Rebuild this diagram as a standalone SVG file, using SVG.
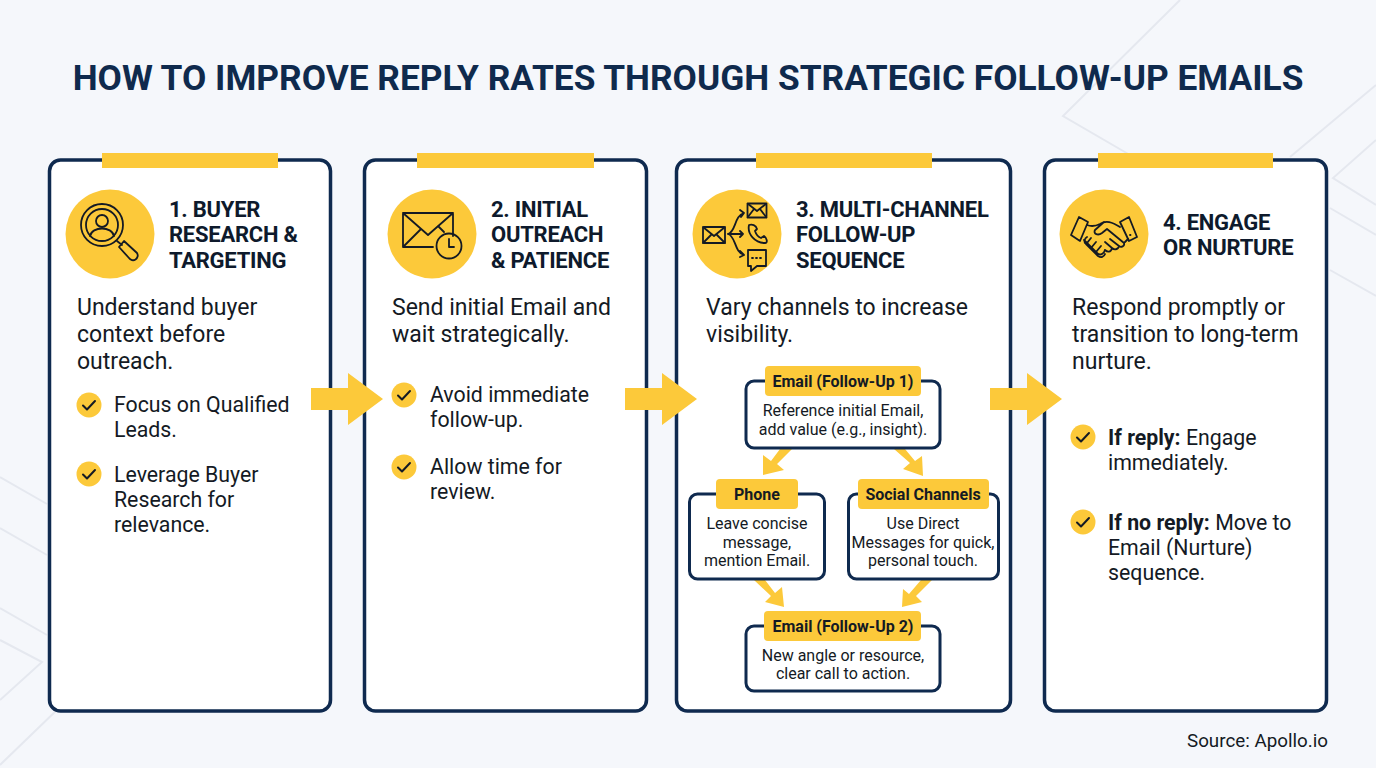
<svg xmlns="http://www.w3.org/2000/svg" width="1376" height="768" viewBox="0 0 1376 768">
<defs>
<style>
text{font-family:"Roboto","Liberation Sans",sans-serif;fill:#141a24}
.t{font-family:"Roboto","Liberation Sans",sans-serif;font-size:35.3px;font-weight:700;fill:#0f2a4d;text-anchor:middle}
.h{font-size:22px;font-weight:700;fill:#0e1a2c;letter-spacing:-.25px}
.b{font-size:23px}
.p{font-size:21.3px}
.c{font-size:16px;text-anchor:middle}
.l{font-size:16px;font-weight:700;text-anchor:middle}
.card{fill:#fff;stroke:#0f2a4f;stroke-width:3.5}
.sub{fill:#fff;stroke:#0f2a4f;stroke-width:3}
.y{fill:#fcc93a}
.i{fill:none;stroke:#141a24;stroke-width:1.8;stroke-linecap:round;stroke-linejoin:round}
.bg{fill:none;stroke:#e5e8ef;stroke-width:2}
</style>
<g id="chk"><circle r="12.5" class="y"/><path d="M-6 0.5L-2 4.5L6 -4" fill="none" stroke="#141a24" stroke-width="2" stroke-linecap="round" stroke-linejoin="round"/></g>
<path id="arr" d="M0 -11H37V-26L72 0L37 26V11H0Z" class="y"/>
</defs>
<rect width="1376" height="768" fill="#f5f7fb"/>
<g id="background"><path class="bg" d="M1180 0L1063 116L1130 155M1376 85L1290 157M1376 140L1333 178L1376 205M1330 208L1376 235M1330 270L1376 296M0 477L47 504M0 528L47 555M0 608L47 635M0 640L42 662L0 700M60 707L0 765"/></g>
<text class="t" x="688" y="90">HOW TO IMPROVE REPLY RATES THROUGH STRATEGIC FOLLOW-UP EMAILS</text>

<g id="card1">
<rect class="card" x="49.500" y="160" width="281" height="551" rx="11"/>
<rect class="y" x="102" y="153" width="176" height="15"/>
<circle class="y" cx="110" cy="234" r="44.500"/>
<g class="i"><circle cx="102" cy="225" r="21"/><circle cx="102" cy="225" r="16"/><circle cx="102" cy="221" r="6"/><path d="M90 236C92 226 112 226 114 236"/><path d="M117 241L122 245M119 247L129 258A4 4 0 0 0 137 253L124 241Z"/></g>
<text class="h"><tspan x="169" y="217">1. BUYER</tspan><tspan x="169" y="242">RESEARCH &amp;</tspan><tspan x="169" y="268">TARGETING</tspan></text>
<text class="b"><tspan x="77" y="315">Understand buyer</tspan><tspan x="77" y="342">context before</tspan><tspan x="77" y="369">outreach.</tspan></text>
<use href="#chk" x="89" y="405"/>
<text class="p"><tspan x="114" y="412">Focus on Qualified</tspan><tspan x="114" y="437">Leads.</tspan></text>
<use href="#chk" x="89" y="474"/>
<text class="p"><tspan x="114" y="482">Leverage Buyer</tspan><tspan x="114" y="507">Research for</tspan><tspan x="114" y="532">relevance.</tspan></text>
</g>

<g id="card2">
<rect class="card" x="364.500" y="160" width="282" height="551" rx="11"/>
<rect class="y" x="417" y="153" width="177" height="15"/>
<circle class="y" cx="432" cy="234" r="44.500"/>
<g class="i"><path d="M433 247H403V213H453V236M403 213L428 235L453 213M403 247L421 229M438 226L444 232"/><circle cx="449" cy="246" r="12.500"/><path d="M449 239V247H454"/></g>
<text class="h"><tspan x="491" y="217">2. INITIAL</tspan><tspan x="491" y="242">OUTREACH</tspan><tspan x="491" y="268">&amp; PATIENCE</tspan></text>
<text class="b"><tspan x="392" y="315">Send initial Email and</tspan><tspan x="392" y="342">wait strategically.</tspan></text>
<use href="#chk" x="404" y="395"/>
<text class="p"><tspan x="430" y="402">Avoid immediate</tspan><tspan x="430" y="427">follow-up.</tspan></text>
<use href="#chk" x="404" y="467"/>
<text class="p"><tspan x="430" y="474">Allow time for</tspan><tspan x="430" y="499">review.</tspan></text>
</g>

<g id="card3">
<rect class="card" x="676.500" y="160" width="334" height="551" rx="11"/>
<rect class="y" x="756" y="153" width="176" height="15"/>
<circle class="y" cx="737" cy="234" r="44.500"/>
<g class="i"><rect x="703" y="227" width="22" height="16" rx="1"/><path d="M703 227L714 236L725 227M703 243L711 235M725 243L717 235"/><rect x="747.500" y="203.500" width="19" height="14" rx="1"/><path d="M747.500 203.500L757 211L766.500 203.500M747.500 217.500L754 209M766.500 217.500L760 209"/><path d="M728 234H743M728 234C736 232 734 216 744 213M728 234C736 236 734 252 744 255M740 210L744 213L741 217M740 231L743 234L740 237M740 251L744 255L740 257"/><path d="M749 225C747 234 755 243 765 243C768 243 767 238 764 236L761 238C758 237 756 234 755 231L757 229C756 225 752 224 749 225Z"/><path d="M748 250H766V266H757L751 271V266H748Z"/><path d="M752 258H762" stroke-dasharray="1 3"/></g>
<text class="h"><tspan x="796" y="217">3. MULTI-CHANNEL</tspan><tspan x="796" y="242">FOLLOW-UP</tspan><tspan x="796" y="268">SEQUENCE</tspan></text>
<text class="b"><tspan x="706" y="315">Vary channels to increase</tspan><tspan x="706" y="342">visibility.</tspan></text>
</g>

<g id="card4">
<rect class="card" x="1044.500" y="160" width="282" height="551" rx="11"/>
<rect class="y" x="1098" y="153" width="175" height="15"/>
<circle class="y" cx="1104" cy="234" r="44.500"/>
<g class="i"><path d="M1079 217L1088 222L1080 241L1071 235ZM1120 222L1129 217L1137 237L1129 241Z"/><path d="M1130 235h.5"/><path d="M1087 225C1092 227 1096 226 1100 224C1106 220 1112 222 1120 227M1104 222L1095 230C1093 234 1098 236 1102 233L1107 229L1124 243C1125 246 1121 248 1119 246L1110 239M1119 246C1118 250 1114 250 1112 248L1105 242M1112 248C1111 253 1107 252 1105 250M1105 250C1104 254 1100 256 1097 253M1125 242L1128 239M1084 240L1098 254M1087 237C1085 238 1083 242 1086 244L1098 256C1101 258 1104 257 1105 254"/><path d="M1091 238L1087 243M1096 242L1091 248M1101 246L1096 252"/></g>
<text class="h"><tspan x="1163" y="230">4. ENGAGE</tspan><tspan x="1163" y="255">OR NURTURE</tspan></text>
<text class="b"><tspan x="1072" y="315">Respond promptly or</tspan><tspan x="1072" y="342">transition to long-term</tspan><tspan x="1072" y="369">nurture.</tspan></text>
<use href="#chk" x="1083" y="437"/>
<text class="p"><tspan x="1108" y="445" font-weight="700">If reply:</tspan><tspan> Engage</tspan><tspan x="1108" y="470">immediately.</tspan></text>
<use href="#chk" x="1083" y="522"/>
<text class="p"><tspan x="1108" y="530" font-weight="700">If no reply:</tspan><tspan> Move to</tspan><tspan x="1108" y="555">Email (Nurture)</tspan><tspan x="1108" y="580">sequence.</tspan></text>
</g>

<g id="connectors">
<use href="#arr" x="311" y="399"/>
<use href="#arr" x="625" y="399"/>
<use href="#arr" x="990" y="399"/>
<path class="y" d="M780 449L792 449L777 464L784 470L763 475L763 455L771 461Z"/>
<path class="y" d="M894 449L905 449L915 461L922 456L923 476L903 469L910 463Z"/>
<path class="y" d="M754 580L765 580L775 593L782 587L784 607L765 602L771 596Z"/>
<path class="y" d="M921 580L932 580L916 596L922 602L902 607L903 589L909 594Z"/>
</g>

<g id="n-email1"><rect class="sub" x="746" y="381" width="194" height="67" rx="8"/><rect class="y" x="765" y="366" width="156" height="30" rx="4"/><text class="l" x="843" y="387">Email (Follow-Up 1)</text><text class="c"><tspan x="843" y="416">Reference initial Email,</tspan><tspan x="843" y="435">add value (e.g., insight).</tspan></text></g>
<g id="n-phone"><rect class="sub" x="689.500" y="494" width="135" height="85" rx="8"/><rect class="y" x="716" y="479" width="82" height="30" rx="4"/><text class="l" x="757" y="500">Phone</text><text class="c"><tspan x="757" y="529">Leave concise</tspan><tspan x="757" y="548">message,</tspan><tspan x="757" y="566">mention Email.</tspan></text></g>
<g id="n-social"><rect class="sub" x="848.500" y="494" width="150" height="85" rx="8"/><rect class="y" x="858" y="479" width="131" height="30" rx="4"/><text class="l" x="923" y="500">Social Channels</text><text class="c"><tspan x="923" y="529">Use Direct</tspan><tspan x="923" y="548">Messages for quick,</tspan><tspan x="923" y="566">personal touch.</tspan></text></g>
<g id="n-email2"><rect class="sub" x="746" y="626" width="194" height="65" rx="8"/><rect class="y" x="764" y="611" width="157" height="30" rx="4"/><text class="l" x="843" y="632">Email (Follow-Up 2)</text><text class="c"><tspan x="843" y="661">New angle or resource,</tspan><tspan x="843" y="679">clear call to action.</tspan></text></g>
<text x="1328" y="747" font-size="18.800" text-anchor="end">Source: Apollo.io</text>
</svg>
